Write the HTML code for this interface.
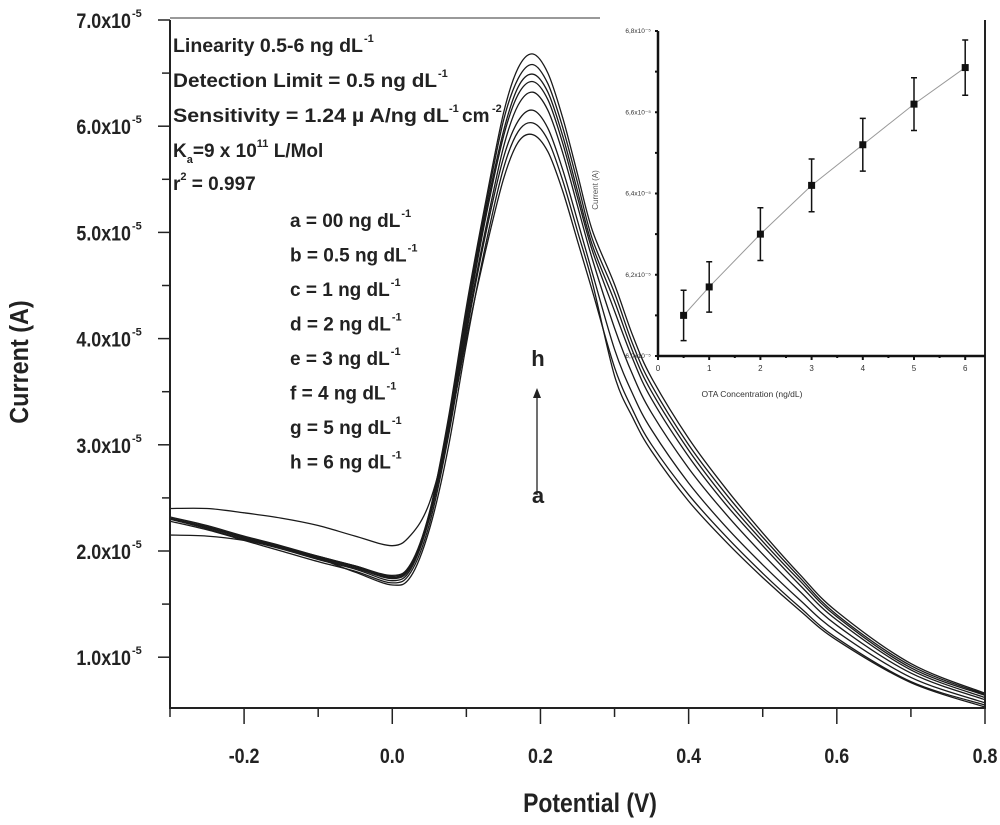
<!DOCTYPE html>
<html><head><meta charset="utf-8"><style>
body{margin:0;background:#fff;}
svg{display:block;font-family:"Liberation Sans",Arial,sans-serif;}
.b{font-weight:bold;fill:#222;}
</style></head><body>
<svg id="chart" width="1000" height="825" viewBox="0 0 1000 825" xmlns="http://www.w3.org/2000/svg">
<g id="main"></g>
<g id="inset"></g>
<g id="notes">
 <text class="b" x="173" y="52" font-size="19" textLength="190" lengthAdjust="spacingAndGlyphs">Linearity 0.5-6 ng dL</text><text class="b" x="364" y="42" font-size="11">-1</text>
 <text class="b" x="173" y="87" font-size="19" textLength="264" lengthAdjust="spacingAndGlyphs">Detection Limit = 0.5 ng dL</text><text class="b" x="438" y="77" font-size="11">-1</text>
 <text class="b" x="173" y="122" font-size="19" textLength="276" lengthAdjust="spacingAndGlyphs">Sensitivity = 1.24 µ A/ng dL</text><text class="b" x="449" y="112" font-size="11">-1</text><text class="b" x="462" y="122" font-size="19">cm</text><text class="b" x="492" y="112" font-size="11">-2</text>
 <text class="b" x="173" y="157" font-size="19">K<tspan font-size="11" dy="6">a</tspan><tspan dy="-6">=9 x 10</tspan><tspan font-size="11" dy="-10">11</tspan><tspan dy="10"> L/Mol</tspan></text>
 <text class="b" x="173" y="190" font-size="19">r<tspan font-size="11" dy="-10">2</tspan><tspan dy="10"> = 0.997</tspan></text>
</g>
<g id="legend"></g>
<g>
 <text class="b" x="538" y="366" font-size="22" text-anchor="middle">h</text>
 <line x1="537" y1="495" x2="537" y2="394" stroke="#222" stroke-width="1.3"/>
 <path d="M533,398 L537,388 L541,398 Z" fill="#222"/>
 <text class="b" x="538" y="503" font-size="22" text-anchor="middle">a</text>
</g>
</svg>
<script>
const potentials=[-0.3,-0.25,-0.2,-0.15,-0.1,-0.05,0,0.025,0.05,0.075,0.1,0.125,0.15,0.17,0.19,0.21,0.23,0.25,0.27,0.3,0.325,0.35,0.4,0.45,0.5,0.55,0.6,0.7,0.8];
const curveA=[2.40,2.40,2.36,2.31,2.24,2.14,2.05,2.15,2.45,3.1,4.0,4.8,5.5,5.85,5.92,5.76,5.39,4.92,4.45,3.73,3.32,3.00,2.53,2.14,1.79,1.47,1.18,0.77,0.55];
const curveB=[2.15,2.14,2.10,2.03,1.93,1.80,1.68,1.76,2.2,2.95,3.95,4.85,5.6,5.95,6.03,5.87,5.49,5.01,4.53,3.65,3.25,2.94,2.47,2.09,1.75,1.44,1.16,0.76,0.53];
const curveC=[2.28,2.20,2.10,2.00,1.90,1.81,1.70,1.80,2.25,3.05,4.05,4.95,5.7,6.05,6.15,5.98,5.59,5.11,4.62,3.90,3.47,3.14,2.64,2.23,1.87,1.54,1.24,0.81,0.57];
const curveD=[2.30,2.21,2.11,2.02,1.92,1.83,1.72,1.83,2.3,3.1,4.1,5.0,5.8,6.2,6.32,6.15,5.75,5.25,4.75,4.10,3.65,3.30,2.78,2.35,1.97,1.62,1.30,0.85,0.60];
const curveE=[2.30,2.22,2.12,2.03,1.93,1.84,1.74,1.85,2.32,3.15,4.15,5.1,5.9,6.3,6.42,6.25,5.84,5.33,4.83,4.26,3.80,3.43,2.89,2.44,2.05,1.68,1.35,0.88,0.62];
const curveF=[2.31,2.23,2.13,2.04,1.94,1.85,1.75,1.86,2.33,3.17,4.2,5.15,5.95,6.37,6.49,6.32,5.91,5.39,4.88,4.35,3.87,3.50,2.95,2.49,2.09,1.72,1.38,0.90,0.64];
const curveG=[2.32,2.24,2.14,2.05,1.95,1.86,1.76,1.87,2.35,3.2,4.25,5.2,6.05,6.45,6.58,6.40,5.99,5.47,4.94,4.43,3.94,3.56,3.00,2.54,2.13,1.75,1.40,0.92,0.65];
const curveH=[2.30,2.22,2.13,2.04,1.95,1.86,1.77,1.88,2.36,3.22,4.3,5.25,6.12,6.55,6.68,6.50,6.08,5.55,5.02,4.51,4.02,3.63,3.06,2.59,2.17,1.78,1.43,0.94,0.66];
const xTicks=[-0.2,0.0,0.2,0.4,0.6,0.8];
const xTickLabels=["-0.2","0.0","0.2","0.4","0.6","0.8"];
const yTicks=[1,2,3,4,5,6,7];
const yTickLabels=["1.0x10","2.0x10","3.0x10","4.0x10","5.0x10","6.0x10","7.0x10"];
const legendLabels=["a = 00 ng dL","b = 0.5 ng dL","c = 1 ng dL","d = 2 ng dL","e = 3 ng dL","f = 4 ng dL","g = 5 ng dL","h = 6 ng dL"];
const insetConc=[0.5,1,2,3,4,5,6];
const insetCurrent=[6.10,6.17,6.30,6.42,6.52,6.62,6.71];
const insetErr=[0.062,0.062,0.065,0.065,0.065,0.065,0.068];
const insetXTicks=[0,1,2,3,4,5,6];
const insetYTicks=[6.0,6.2,6.4,6.6,6.8];
const insetYLabels=["6,0x10","6,2x10","6,4x10","6,6x10","6,8x10"];

const NS="http://www.w3.org/2000/svg";
function mk(tag,attrs,parent,txt){const e=document.createElementNS(NS,tag);for(const k in attrs)e.setAttribute(k,attrs[k]);if(txt!==undefined)e.textContent=txt;parent.appendChild(e);return e;}
const X0=170,X1=985,Y0=708,Y1=20;
const xs=v=>X0+(v+0.3)/1.1*(X1-X0);
const ys=v=>20+(7-v)*106.2;
const main=document.getElementById('main');
const defs=mk('defs',{},main);
const cp=mk('clipPath',{id:'clipMain'},defs);
mk('rect',{x:X0,y:Y1,width:X1-X0,height:Y0-Y1},cp);
function smoothPath(px,py){let d=`M${px[0]},${py[0]}`;for(let i=0;i<px.length-1;i++){const p0=i>0?i-1:i,p3=i+2<px.length?i+2:i+1;const c1x=px[i]+(px[i+1]-px[p0])/6,c1y=py[i]+(py[i+1]-py[p0])/6,c2x=px[i+1]-(px[p3]-px[i])/6,c2y=py[i+1]-(py[p3]-py[i])/6;d+=` C${c1x.toFixed(1)},${c1y.toFixed(1)} ${c2x.toFixed(1)},${c2y.toFixed(1)} ${px[i+1].toFixed(1)},${py[i+1].toFixed(1)}`;}return d;}
const curves=[curveA,curveB,curveC,curveD,curveE,curveF,curveG,curveH];
const names=['a','b','c','d','e','f','g','h'];
const cg=mk('g',{'clip-path':'url(#clipMain)'},main);


curves.forEach((c,i)=>{const p=mk('path',{d:smoothPath(potentials.map(xs),c.map(ys)),fill:'none',stroke:'#1a1a1a','stroke-width':1.3},cg);

});
const fr=mk('path',{d:`M${X0},${Y1} V${Y0} H${X1} V${Y1}`,fill:'none',stroke:'#222','stroke-width':2},main);


const tl=mk('line',{x1:X0,y1:Y1-2,x2:600,y2:Y1-2,stroke:'#999','stroke-width':2},main);


for(let v=-0.3;v<=0.801;v+=0.1){const major=xTicks.some(t=>Math.abs(t-v)<1e-6);const t=mk('line',{x1:xs(v),x2:xs(v),y1:Y0,y2:Y0+(major?16:9),stroke:'#222','stroke-width':1.5},main);

}
xTicks.forEach((v,i)=>{const t=mk('text',{x:xs(v),y:763,'font-size':21,'text-anchor':'middle',class:'b',transform:`translate(${xs(v)},0) scale(0.85,1) translate(${-xs(v)},0)`},main,xTickLabels[i]);

});
for(let v=1;v<=7.01;v+=0.5){const major=Math.abs(v-Math.round(v))<1e-6;const t=mk('line',{x1:X0,x2:X0-(major?12:8),y1:ys(v),y2:ys(v),stroke:'#222','stroke-width':1.5},main);

}
yTicks.forEach((v,i)=>{const t=mk('text',{x:131,y:ys(v)+8,'font-size':21,'text-anchor':'end',class:'b',transform:`translate(131,0) scale(0.85,1) translate(-131,0)`},main,yTickLabels[i]);


const s=mk('text',{x:132,y:ys(v)-3,'font-size':11,class:'b'},main,'-5');

});
const xt=mk('text',{x:590,y:812,'font-size':27,'text-anchor':'middle',class:'b',transform:'translate(590,0) scale(0.85,1) translate(-590,0)'},main,'Potential (V)');


const yt=mk('text',{x:0,y:0,'font-size':26,'text-anchor':'middle',class:'b',transform:'translate(28,362) rotate(-90) scale(0.9,1)'},main,'Current (A)');


const lg=document.getElementById('legend');
legendLabels.forEach((l,i)=>{const y=227+i*34.5;const t=mk('text',{x:290,y:y,'font-size':19,class:'b'},lg,l);


const w=t.getComputedTextLength();const s=mk('text',{x:291+w,y:y-10,'font-size':11,class:'b'},lg,'-1');

});
const ins=document.getElementById('inset');
const IX0=658,IX1=985,IY0=356,IY1=31;
const ixs=v=>IX0+v*51.2;
const iys=v=>IY0-(v-6.0)/0.8*(IY0-IY1);
const ia=mk('path',{d:`M${IX0},${IY1} V${IY0} H${IX1}`,fill:'none',stroke:'#111','stroke-width':2.5},ins);


for(let v=0;v<=6.01;v+=0.5){const major=Math.abs(v-Math.round(v))<1e-6;const t=mk('line',{x1:ixs(v),x2:ixs(v),y1:IY0,y2:IY0+(major?4:2),stroke:'#111','stroke-width':2},ins);

}
insetXTicks.forEach(v=>{const t=mk('text',{x:ixs(v),y:371,'font-size':8,'text-anchor':'middle',fill:'#333'},ins,String(v));

});
for(let v=6.0;v<=6.801;v+=0.1){const t=mk('line',{x1:IX0,x2:IX0-3,y1:iys(v),y2:iys(v),stroke:'#111','stroke-width':2},ins);

}
insetYTicks.forEach((v,i)=>{const t=mk('text',{x:651,y:iys(v)+2,'font-size':6.5,'text-anchor':'end',fill:'#333'},ins,insetYLabels[i]+'⁻⁵');

});
const ixt=mk('text',{x:752,y:397,'font-size':8.5,'text-anchor':'middle',fill:'#333'},ins,'OTA Concentration (ng/dL)');


const iyt=mk('text',{x:0,y:0,'font-size':8,'text-anchor':'middle',fill:'#555',transform:'translate(598,190) rotate(-90)'},ins,'Current (A)');


const fit=mk('polyline',{points:insetConc.map((c,i)=>ixs(c)+','+iys(insetCurrent[i])).join(' '),fill:'none',stroke:'#999','stroke-width':1},ins);


insetConc.forEach((c,i)=>{const x=ixs(c),y=iys(insetCurrent[i]),e=insetErr[i]/0.8*(IY0-IY1);
const g=mk('g',{},ins);


mk('path',{d:`M${x},${y-e} V${y+e} M${x-3},${y-e} H${x+3} M${x-3},${y+e} H${x+3}`,stroke:'#111','stroke-width':1.5,fill:'none'},g);
mk('rect',{x:x-3.5,y:y-3.5,width:7,height:7,fill:'#111'},g);});
</script>
</body></html>
